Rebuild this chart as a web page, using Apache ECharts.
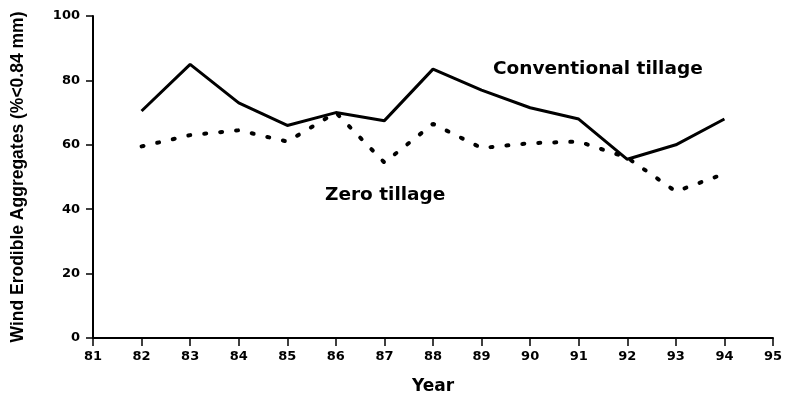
<!DOCTYPE html>
<html>
<head>
<meta charset="utf-8">
<script src="https://cdn.jsdelivr.net/npm/echarts@6/dist/echarts.min.js"></script>
<style>
  html, body { margin: 0; padding: 0; background: #fff; }
  #chart { width: 793px; height: 402px; }
</style>
</head>
<body>
<div id="chart"></div>
<script>
// years on the x axis
const years = [82, 83, 84, 85, 86, 87, 88, 89, 90, 91, 92, 93, 94];
// wind erodible aggregates (% < 0.84 mm)
const conventional = [70.5, 85, 73, 66, 70, 67.5, 83.5, 77, 71.5, 68, 55.5, 60, 68];
const zeroTillage = [59.5, 63, 64.5, 61, 70, 54.5, 66.5, 59, 60.5, 61, 56, 45.5, 51];
const yTicks = [0, 20, 40, 60, 80, 100];

const font = 'DejaVu Sans, Arial, sans-serif';
const narrow = 'Liberation Sans Narrow, Liberation Sans, Arial, sans-serif';

const chart = echarts.init(document.getElementById('chart'));

chart.setOption({
  animation: false,
  grid: { left: 93, right: 20, top: 16, bottom: 64, outerBoundsMode: 'none', containLabel: false },
  xAxis: {
    type: 'value',
    min: 81,
    max: 95,
    interval: 1,
    name: 'Year',
    nameLocation: 'middle',
    nameGap: 40,
    nameTextStyle: { fontFamily: font, fontWeight: 'bold', fontSize: 17, color: '#000' },
    axisLine: { lineStyle: { color: '#000', width: 2 } },
    axisTick: { length: 8, lineStyle: { color: '#000', width: 1.5 } },
    axisLabel: { fontFamily: font, fontWeight: 'bold', fontSize: 13, color: '#000', margin: 12 },
    splitLine: { show: false }
  },
  yAxis: {
    type: 'value',
    min: yTicks[0],
    max: yTicks[yTicks.length - 1],
    interval: 20,
    name: 'Wind Erodible Aggregates (%<0.84 mm)',
    nameLocation: 'middle',
    nameGap: 66,
    nameTextStyle: { fontFamily: narrow, fontWeight: 'bold', fontSize: 17.5, color: '#000' },
    axisLine: { show: true, lineStyle: { color: '#000', width: 2 } },
    axisTick: { show: true, length: 7, lineStyle: { color: '#000', width: 1.5 } },
    axisLabel: { fontFamily: font, fontWeight: 'bold', fontSize: 13, color: '#000', margin: 13 },
    splitLine: { show: false }
  },
  series: [
    {
      name: 'Conventional tillage',
      type: 'line',
      data: years.map((y, i) => [y, conventional[i]]),
      showSymbol: false,
      lineStyle: { color: '#000', width: 3 }
    },
    {
      name: 'Zero tillage',
      type: 'line',
      data: years.map((y, i) => [y, zeroTillage[i]]),
      showSymbol: false,
      lineStyle: { color: '#000', width: 4, type: [2, 14], cap: 'round' }
    }
  ],
  graphic: [
    {
      type: 'text', left: 493, top: 60,
      style: { text: 'Conventional tillage', font: 'bold 18.5px ' + font, fill: '#000' }
    },
    {
      type: 'text', left: 325, top: 186,
      style: { text: 'Zero tillage', font: 'bold 18.5px ' + font, fill: '#000' }
    }
  ]
});
</script>
</body>
</html>
